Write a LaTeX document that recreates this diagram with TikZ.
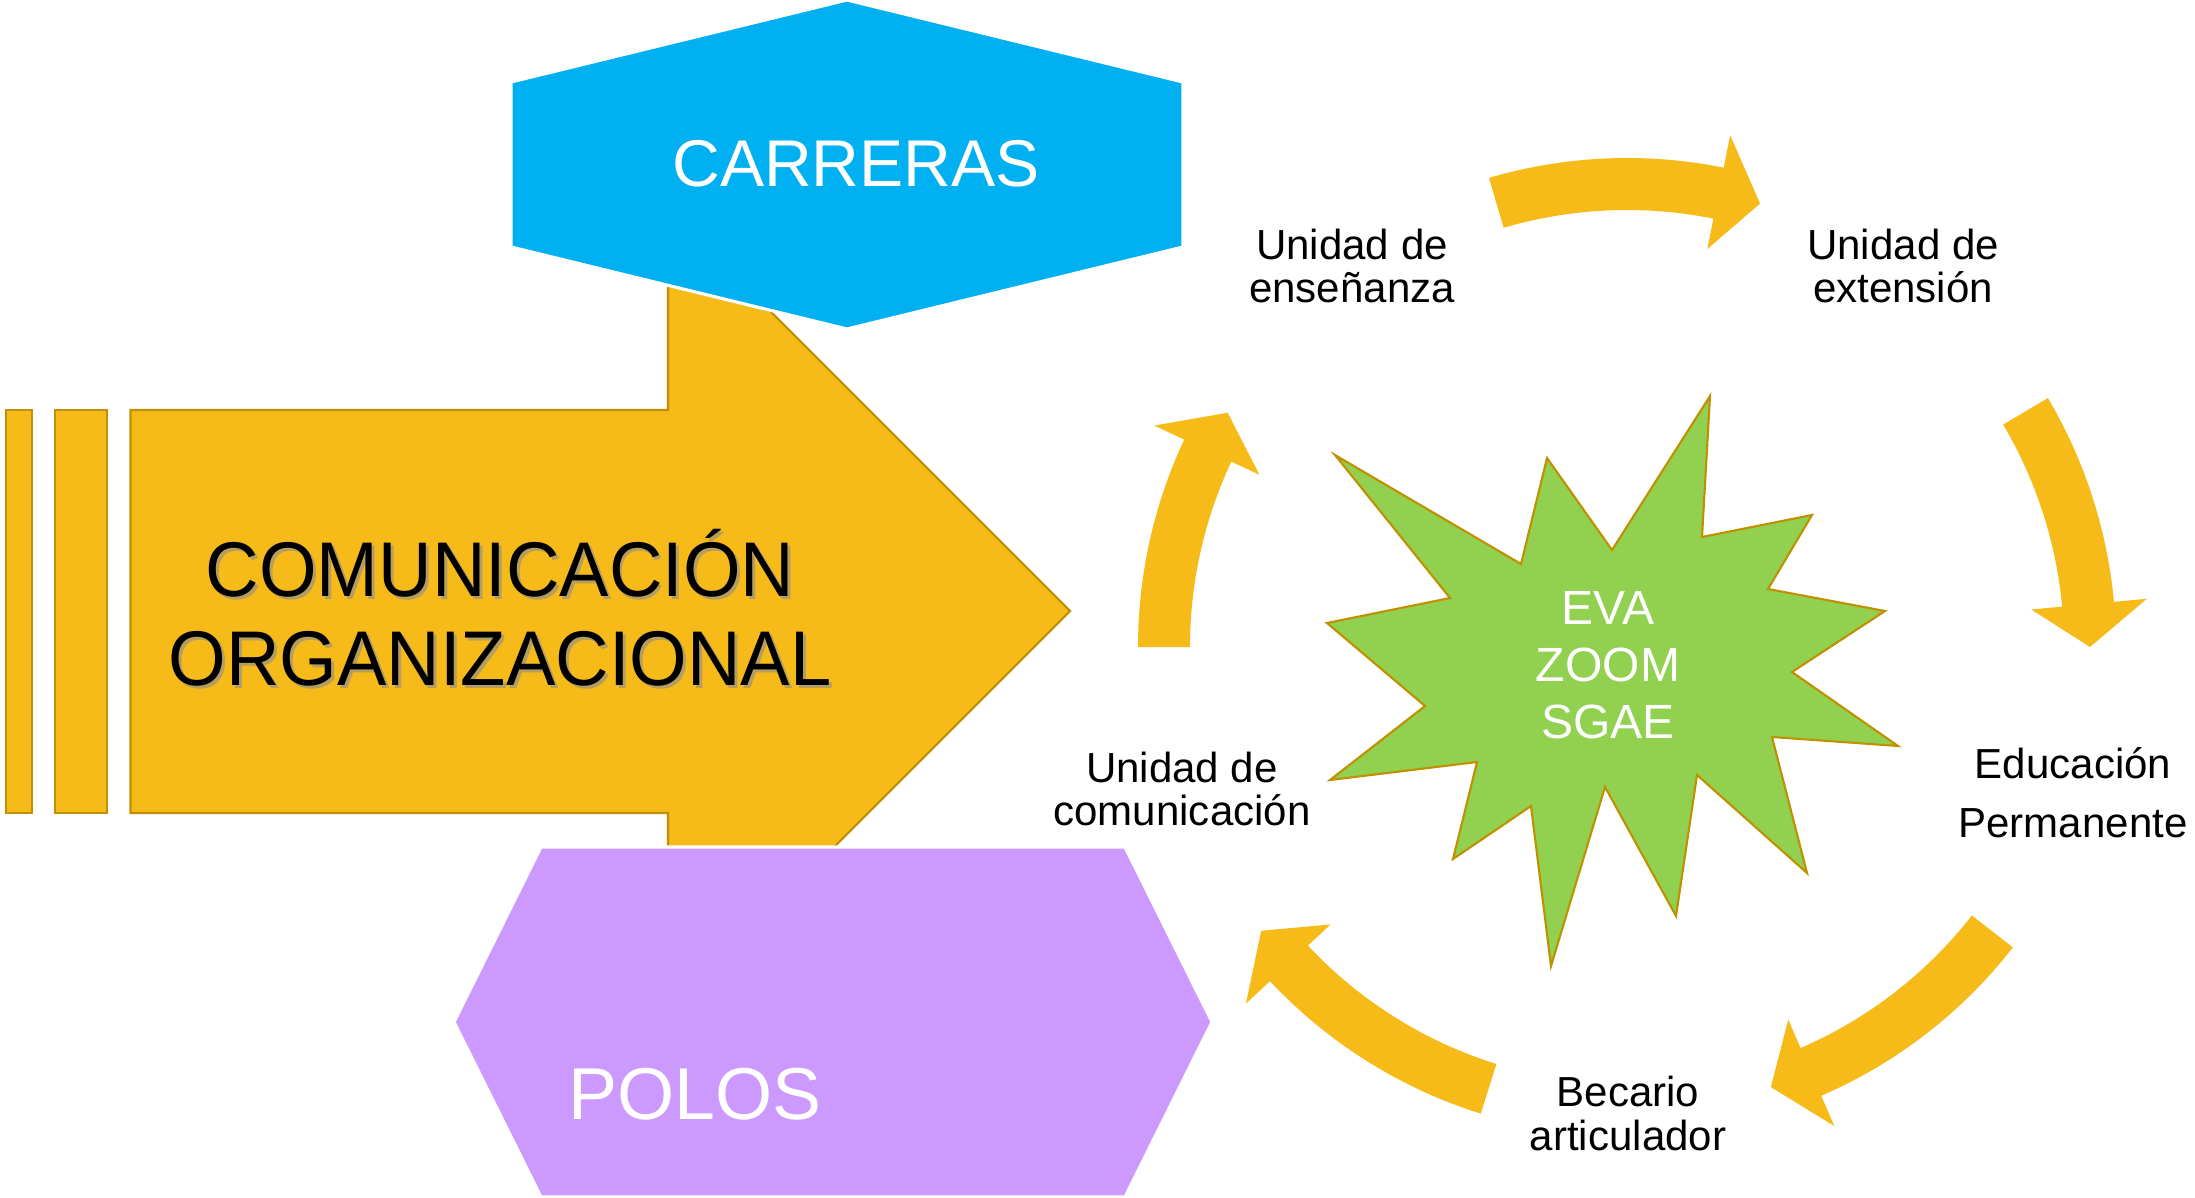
\documentclass[tikz,border=0pt]{standalone}
\usepackage{fontspec}
\setmainfont{Liberation Sans}
\newfontfamily\bigfont[FakeStretch=0.955]{Liberation Sans}
\definecolor{cGold}{HTML}{F6BA19}
\definecolor{cGoldLine}{HTML}{BF9000}
\definecolor{cSky}{HTML}{00B0F0}
\definecolor{cLilac}{HTML}{CC99FF}
\definecolor{cLime}{HTML}{92D050}
\tikzset{
  lbl/.style={anchor=base, inner sep=0pt, text=black, font=\fontsize{11.95pt}{12.4pt}\selectfont},
  evatxt/.style={anchor=base, inner sep=0pt, text=white, font=\fontsize{13.66pt}{16pt}\selectfont},
  bigtxt/.style={anchor=base, inner sep=0pt, text=black, font=\bigfont\fontsize{22.05pt}{25pt}\selectfont},
  bigshadow/.style={bigtxt, text=black!45, opacity=0.6},
  hextxt/.style={anchor=base, inner sep=0pt, text=white},
  goldshape/.style={fill=cGold, draw=cGoldLine, line width=0.6pt, line join=miter},
  circarrow/.style={fill=cGold},
}
\newcommand\cArrow[3]{% tail angle, head-base angle, tip angle (y-down system)
  \fill[circarrow, shift={(1627,647)}]
    (#1:489) arc[start angle=#1, end angle=#2, radius=489]
    -- (#2:522) -- (#3:463) -- (#2:406) -- (#2:437)
    arc[start angle=#2, end angle=#1, radius=437] -- cycle;}
\begin{document}
\begin{tikzpicture}[x=0.01cm, y=-0.01cm]
\useasboundingbox (0,0) rectangle (2195,1197);

% big arrow with bars
\draw[goldshape] (5.6,410) rectangle (31.6,813);
\draw[goldshape] (55,410) rectangle (107,813);
\draw[goldshape] (130.5,410) -- (668,410) -- (668,209) -- (1070,611) -- (668,1013) -- (668,813) -- (130.5,813) -- cycle;

% hexagons
\draw[fill=cSky, draw=white, line width=0.9pt] (847,0) -- (1183,82) -- (1183,247) -- (847,329) -- (511,247) -- (511,82) -- cycle;
\node[hextxt, font=\fontsize{18.8pt}{20pt}\selectfont] (carreras) at (856,186) {CARRERAS};

\draw[fill=cLilac, draw=white, line width=0.9pt] (541,847) -- (1125,847) -- (1212,1022) -- (1125,1197) -- (541,1197) -- (454,1022) -- cycle;
\node[hextxt, font=\fontsize{20.9pt}{22pt}\selectfont] (polos) at (695,1119) {POLOS};

% big text
\node[bigshadow] at (503,599) {COMUNICACIÓN};
\node[bigshadow] at (503,688) {ORGANIZACIONAL};
\node[bigtxt] (com1) at (500,596) {COMUNICACIÓN};
\node[bigtxt] (com2) at (500,685) {ORGANIZACIONAL};

% star
\draw[fill=cLime, draw=cGoldLine, line width=0.6pt, line join=miter]
  (1335,455) -- (1521,564) -- (1547,458) -- (1612,550) -- (1710,396) -- (1702,537)
  -- (1812,515) -- (1768,589) -- (1885,611) -- (1792,672) -- (1898,746) -- (1772,737)
  -- (1807,873) -- (1697,775) -- (1676,916) -- (1605,787) -- (1551,966) -- (1531,806)
  -- (1453,859) -- (1477,762) -- (1330,780) -- (1425,706) -- (1327,623) -- (1450,598) -- cycle;
\node[evatxt] (eva) at (1608,624) {EVA};
\node[evatxt] (zoom) at (1608,681) {ZOOM};
\node[evatxt] (sgae) at (1608,738) {SGAE};

% circular arrows
\cArrow{-180}{-154.9}{-149.6}
\cArrow{-106.4}{-78.6}{-73.3}
\cArrow{-30.6}{-5.3}{0}
\cArrow{37.9}{66.6}{71.9}
\cArrow{107.4}{136.9}{142.2}

% labels
\node[lbl] (ens1) at (1352,259) {Unidad de};
\node[lbl] (ens2) at (1352,302) {enseñanza};
\node[lbl] (ext1) at (1903,259) {Unidad de};
\node[lbl] (ext2) at (1903,302) {extensión};
\node[lbl] (edu1) at (2073,778) {Educación};
\node[lbl] (edu2) at (2073,837) {Permanente};
\node[lbl] (bec1) at (1628,1106) {Becario};
\node[lbl] (bec2) at (1628,1150) {articulador};
\node[lbl] (uco1) at (1182,782) {Unidad de};
\node[lbl] (uco2) at (1182,825) {comunicación};
\end{tikzpicture}
\end{document}
